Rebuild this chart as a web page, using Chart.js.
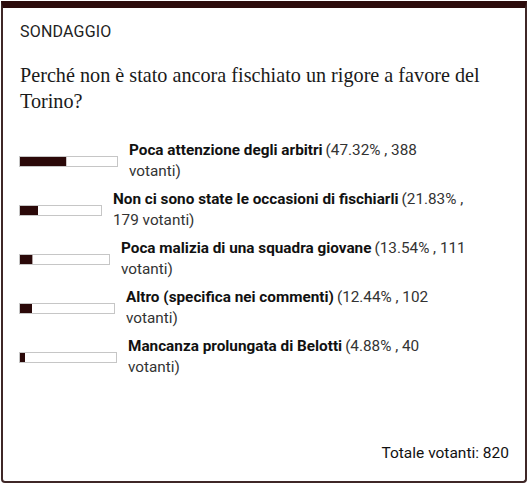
<!DOCTYPE html>
<html>
<head>
<meta charset="utf-8">
<script src="https://cdn.jsdelivr.net/npm/chart.js@4.4.1/dist/chart.umd.min.js"></script>
<style>
  html, body { margin: 0; padding: 0; background: #fff; }
  body { width: 528px; height: 486px; position: relative; overflow: hidden; font-family: Roboto, sans-serif; }
  .poll {
    position: absolute; left: 1px; top: 1px; width: 526px; height: 482px;
    box-sizing: border-box; border: 2px solid #3f2727; border-top: 7px solid #2c0b0b;
    border-radius: 0 0 4px 4px;
  }
  .kicker { position: absolute; left: 17px; top: 14px; font-size: 16px; line-height: 20px; color: #222; letter-spacing: 0.2px; }
  .question { position: absolute; left: 17px; top: 54px; width: 480px; font-family: "Liberation Serif", "DejaVu Serif", serif; font-size: 20.2px; line-height: 26px; color: #1a1a1a; }
  .rows { position: absolute; left: 16px; top: 132px; width: 490px; }
  .row { display: flex; align-items: center; height: 42px; margin-bottom: 7px; }
  .track { flex: none; height: 11px; box-sizing: border-box; border: 1px solid #c6c6c6; background: #fff; position: relative; }
  .track canvas { display: block; }
  .label { margin-left: 11px; font-size: 15.3px; line-height: 21px; color: #333; }
  .label b { color: #111; font-weight: 700; margin-right: 3px; }
  .total { position: absolute; right: 16px; top: 435px; font-size: 15.5px; line-height: 20px; color: #111; }
</style>
</head>
<body>
<div class="poll">
  <div class="kicker">SONDAGGIO</div>
  <div class="question">Perché non è stato ancora fischiato un rigore a favore del Torino?</div>
  <div class="rows" id="rows"></div>
  <div class="total" id="total"></div>
</div>
<script>
// poll answers and results
const answers = [
  'Poca attenzione degli arbitri',
  'Non ci sono state le occasioni di fischiarli',
  'Poca malizia di una squadra giovane',
  'Altro (specifica nei commenti)',
  'Mancanza prolungata di Belotti'
];
const percentages = [47.32, 21.83, 13.54, 12.44, 4.88];
const votes = [388, 179, 111, 102, 40];
const totalVotes = 820;

// layout only: outer width of each bar track, and where the line wraps
const trackWidths = [99, 83, 91, 96, 98];
const wrapBeforeCount = [false, true, false, false, false];

const rowsEl = document.getElementById('rows');
answers.forEach((answer, i) => {
  const row = document.createElement('div');
  row.className = 'row';
  const pct = percentages[i].toFixed(2);
  const tail = wrapBeforeCount[i]
    ? `(${pct}% ,<br>${votes[i]} votanti)`
    : `(${pct}% , ${votes[i]}<br>votanti)`;
  row.innerHTML = `
    <div class="track" style="width:${trackWidths[i]}px"><canvas id="bar${i}"></canvas></div>
    <div class="label"><b>${answer}</b>${tail}</div>`;
  rowsEl.appendChild(row);

  const canvas = row.querySelector('canvas');
  canvas.width = trackWidths[i] - 2;
  canvas.height = 9;
  canvas.style.width = (trackWidths[i] - 2) + 'px';
  canvas.style.height = '9px';

  new Chart(canvas, {
    type: 'bar',
    data: {
      labels: [answer],
      datasets: [{
        data: [percentages[i]],
        backgroundColor: '#2b0909',
        borderWidth: 0,
        barPercentage: 1,
        categoryPercentage: 1,
      }],
    },
    options: {
      indexAxis: 'y',
      responsive: false,
      animation: false,
      devicePixelRatio: 1,
      layout: { padding: 0 },
      plugins: { legend: { display: false }, tooltip: { enabled: false } },
      scales: {
        x: { min: 0, max: 100, display: false },
        y: { display: false },
      },
    },
  });
});

document.getElementById('total').textContent = `Totale votanti: ${totalVotes}`;
</script>
</body>
</html>
